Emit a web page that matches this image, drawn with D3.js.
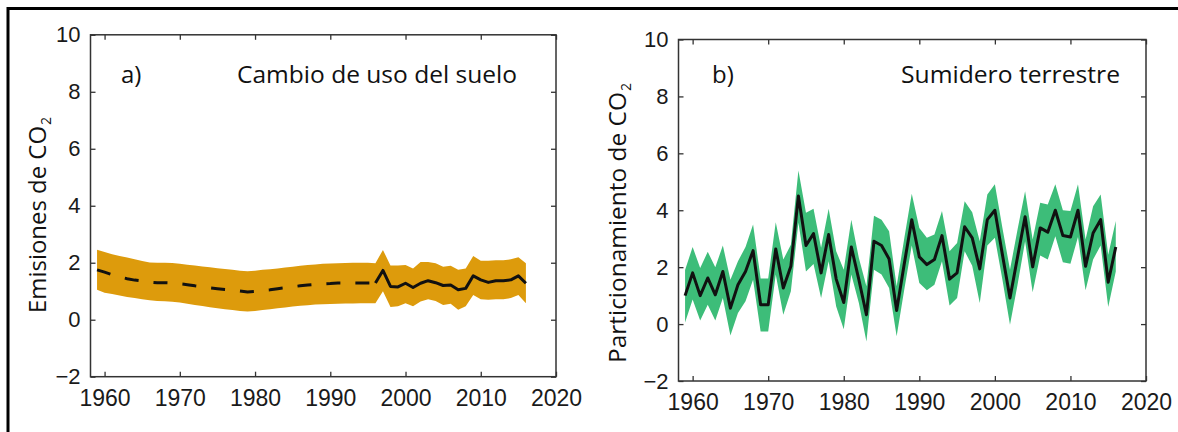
<!DOCTYPE html>
<html>
<head>
<meta charset="utf-8">
<script src="https://cdn.jsdelivr.net/npm/d3@7"></script>
<style>
  body { margin: 0; background: #fff; }
  svg { display: block; }
</style>
</head>
<body>
<div id="vis"></div>
<script>
// Años (1959-2016)
const ANIOS = [1959, 1960, 1961, 1962, 1963, 1964, 1965, 1966, 1967, 1968, 1969, 1970, 1971, 1972, 1973, 1974, 1975, 1976, 1977, 1978,
  1979, 1980, 1981, 1982, 1983, 1984, 1985, 1986, 1987, 1988, 1989, 1990, 1991, 1992, 1993, 1994, 1995, 1996, 1997, 1998,
  1999, 2000, 2001, 2002, 2003, 2004, 2005, 2006, 2007, 2008, 2009, 2010, 2011, 2012, 2013, 2014, 2015, 2016];

// a) Cambio de uso del suelo
const USO_MEDIA = [1.75, 1.67, 1.58, 1.50, 1.44, 1.39, 1.36, 1.32, 1.30, 1.30, 1.29, 1.26, 1.23, 1.19, 1.16, 1.12, 1.09, 1.06, 1.04, 1.01,
  0.97, 0.99, 1.03, 1.05, 1.09, 1.12, 1.16, 1.19, 1.22, 1.24, 1.26, 1.27, 1.29, 1.29, 1.29, 1.29, 1.29, 1.29, 1.73, 1.17,
  1.15, 1.28, 1.13, 1.28, 1.37, 1.30, 1.20, 1.22, 1.05, 1.10, 1.54, 1.40, 1.31, 1.37, 1.37, 1.40, 1.54, 1.28];
const USO_ALTO = [2.46, 2.38, 2.30, 2.24, 2.18, 2.12, 2.06, 2.01, 2.00, 2.00, 1.99, 1.96, 1.93, 1.90, 1.87, 1.84, 1.81, 1.78, 1.75, 1.72,
  1.70, 1.72, 1.75, 1.77, 1.80, 1.83, 1.86, 1.89, 1.92, 1.94, 1.96, 1.97, 1.98, 1.99, 2.00, 2.00, 2.00, 1.98, 2.45, 1.90,
  1.90, 1.92, 1.80, 2.03, 2.03, 1.98, 1.86, 1.89, 1.75, 1.80, 2.24, 2.07, 2.07, 2.09, 2.09, 2.12, 2.19, 1.98];
const USO_BAJO = [1.05, 0.95, 0.90, 0.85, 0.80, 0.76, 0.72, 0.68, 0.66, 0.65, 0.63, 0.60, 0.56, 0.52, 0.48, 0.44, 0.40, 0.37, 0.34, 0.31,
  0.29, 0.31, 0.34, 0.37, 0.40, 0.43, 0.46, 0.49, 0.51, 0.53, 0.54, 0.55, 0.56, 0.57, 0.57, 0.58, 0.58, 0.58, 1.00, 0.45,
  0.47, 0.58, 0.47, 0.64, 0.72, 0.66, 0.52, 0.56, 0.35, 0.47, 0.87, 0.72, 0.70, 0.72, 0.72, 0.76, 0.87, 0.58];
const USO_FIN_DISCONTINUO = 1996; // linea punteada hasta este año

// b) Sumidero terrestre
const SUM_MEDIA = [1.00, 1.80, 1.00, 1.62, 1.03, 1.85, 0.56, 1.38, 1.85, 2.58, 0.68, 0.68, 2.64, 1.27, 2.03, 4.50, 2.76, 3.18, 1.80, 3.15,
  1.58, 0.76, 2.71, 1.56, 0.33, 2.91, 2.76, 2.29, 0.48, 2.10, 3.67, 2.36, 2.09, 2.27, 3.11, 1.58, 1.80, 3.42, 3.03, 1.94,
  3.67, 4.00, 2.44, 0.92, 2.36, 3.77, 2.01, 3.38, 3.23, 4.00, 3.11, 3.06, 4.00, 2.03, 3.20, 3.67, 1.47, 2.71];
const SUM_ALTO = [1.90, 2.71, 1.97, 2.54, 2.00, 2.76, 1.56, 2.21, 2.71, 3.50, 1.60, 1.60, 3.58, 2.27, 2.79, 5.40, 3.91, 4.05, 2.68, 4.05,
  2.56, 1.91, 3.67, 2.32, 1.33, 3.81, 3.67, 3.26, 1.33, 3.00, 4.58, 3.38, 3.03, 3.15, 3.97, 2.56, 2.85, 4.32, 3.93, 2.91,
  4.55, 4.91, 3.38, 1.91, 3.32, 4.67, 2.97, 4.26, 4.20, 4.91, 4.00, 3.97, 4.91, 2.97, 4.14, 4.55, 2.44, 3.62];
const SUM_BAJO = [0.06, 0.86, 0.13, 0.68, 0.13, 0.92, -0.40, 0.39, 0.80, 1.56, -0.26, -0.26, 1.74, 0.33, 1.15, 3.56, 1.85, 2.11, 0.92, 2.21,
  0.62, -0.18, 1.74, 0.74, -0.61, 1.91, 1.74, 1.27, -0.43, 1.20, 2.76, 1.44, 1.19, 1.38, 2.21, 0.65, 0.92, 2.56, 2.05, 0.74,
  2.76, 3.03, 1.56, -0.02, 1.38, 2.91, 1.12, 2.41, 2.27, 3.09, 2.17, 2.12, 3.06, 1.19, 2.27, 2.76, 0.60, 1.85];

// Ticks
const TICKS_X = [1960, 1970, 1980, 1990, 2000, 2010, 2020];
const TICKS_Y = [-2, 0, 2, 4, 6, 8, 10];

const WIDTH = 1178;
const HEIGHT = 432;
const SVG = d3.select("#vis").append("svg").attr("width", WIDTH).attr("height", HEIGHT);

const FUENTE_TITULO = "'Open Sans', Lato, sans-serif";
const FUENTE_EJES = "'Liberation Sans', Arial, sans-serif";

// Marco exterior (se ve cortado a la derecha y abajo)
SVG.append("path")
  .attr("d", `M8,${HEIGHT} V8.5 H${WIDTH}`)
  .attr("fill", "none").attr("stroke", "#000").attr("stroke-width", 3);

crearPanel({
  left: 90.5, right: 556, top: 34.8, bottom: 376.7,
  media: USO_MEDIA, alto: USO_ALTO, bajo: USO_BAJO, corte: USO_FIN_DISCONTINUO,
  color: "#dd9b0c",
  letra: "a)", letraX: 121,
  titulo: "Cambio de uso del suelo", tituloX: 237, tituloLargo: 280,
  ejeY: "Emisiones de CO", ejeX: 46, ejeInicio: 313, ejeLargo: 187
});

crearPanel({
  left: 678.5, right: 1146, top: 39.5, bottom: 381,
  media: SUM_MEDIA, alto: SUM_ALTO, bajo: SUM_BAJO, corte: null,
  color: "#3dbd79",
  letra: "b)", letraX: 712,
  titulo: "Sumidero terrestre", tituloX: 901, tituloLargo: 219,
  ejeY: "Particionamiento de CO", ejeX: 626, ejeInicio: 363, ejeLargo: 271
});

function crearPanel(p) {
  const x = d3.scaleLinear().domain([1958.13, 2020]).range([p.left, p.right]);
  const y = d3.scaleLinear().domain([-2, 10]).range([p.bottom, p.top]);

  const datos = ANIOS.map((a, i) => ({ anio: a, media: p.media[i], alto: p.alto[i], bajo: p.bajo[i] }));
  const g = SVG.append("g");

  // Banda de incertidumbre
  const area = d3.area().x(d => x(d.anio)).y0(d => y(d.bajo)).y1(d => y(d.alto));
  g.append("path").datum(datos).attr("d", area).attr("fill", p.color);

  // Linea media (punteada antes del corte si corresponde)
  const linea = d3.line().x(d => x(d.anio)).y(d => y(d.media));
  if (p.corte) {
    g.append("path").datum(datos.filter(d => d.anio <= p.corte)).attr("d", linea)
      .attr("fill", "none").attr("stroke", "#111").attr("stroke-width", 3)
      .attr("stroke-dasharray", "14,15");
    g.append("path").datum(datos.filter(d => d.anio >= p.corte)).attr("d", linea)
      .attr("fill", "none").attr("stroke", "#111").attr("stroke-width", 3).attr("stroke-linejoin", "round");
  } else {
    g.append("path").datum(datos).attr("d", linea)
      .attr("fill", "none").attr("stroke", "#111").attr("stroke-width", 3).attr("stroke-linejoin", "round");
  }

  // Ejes con ticks hacia adentro
  const ejeIzq = g.append("g").attr("transform", `translate(${p.left},0)`)
    .call(d3.axisLeft(y).tickValues(TICKS_Y).tickSize(-5).tickPadding(10));
  const ejeAbajo = g.append("g").attr("transform", `translate(0,${p.bottom})`)
    .call(d3.axisBottom(x).tickValues(TICKS_X).tickSize(-5).tickPadding(13).tickFormat(d3.format("d")));
  const ejeDer = g.append("g").attr("transform", `translate(${p.right},0)`)
    .call(d3.axisRight(y).tickValues(TICKS_Y).tickSize(-5).tickFormat(""));
  const ejeArriba = g.append("g").attr("transform", `translate(0,${p.top})`)
    .call(d3.axisTop(x).tickValues(TICKS_X).tickSize(-5).tickFormat(""));

  [ejeIzq, ejeAbajo, ejeDer, ejeArriba].forEach(e => {
    e.select(".domain").remove();
    e.selectAll(".tick line").attr("stroke", "#333").attr("stroke-width", 1.3);
    e.selectAll("text").style("font-family", FUENTE_EJES).style("font-size", "22px").attr("fill", "#1a1a1a");
  });
  ejeAbajo.selectAll("text").style("font-size", "23px");

  // Caja
  g.append("rect").attr("x", p.left).attr("y", p.top)
    .attr("width", p.right - p.left).attr("height", p.bottom - p.top)
    .attr("fill", "none").attr("stroke", "#333").attr("stroke-width", 1.5);

  // Letra del panel y titulo
  g.append("text").text(p.letra).attr("x", p.letraX).attr("y", 83)
    .attr("font-family", FUENTE_TITULO).attr("font-size", 24).attr("fill", "#111");
  g.append("text").text(p.titulo).attr("x", p.tituloX).attr("y", 83)
    .attr("textLength", p.tituloLargo).attr("lengthAdjust", "spacingAndGlyphs")
    .attr("font-family", FUENTE_TITULO).attr("font-size", 24).attr("fill", "#111");

  // Titulo eje Y (CO con subindice 2)
  const t = g.append("g").attr("transform", `translate(${p.ejeX},${p.ejeInicio}) rotate(-90)`);
  t.append("text").text(p.ejeY).attr("x", 0).attr("y", 0)
    .attr("textLength", p.ejeLargo).attr("lengthAdjust", "spacingAndGlyphs")
    .attr("font-family", FUENTE_TITULO).attr("font-size", 24).attr("fill", "#111");
  t.append("text").text("2").attr("x", p.ejeLargo + 1).attr("y", 5)
    .attr("font-family", FUENTE_TITULO).attr("font-size", 14).attr("fill", "#111");
}
</script>
</body>
</html>
